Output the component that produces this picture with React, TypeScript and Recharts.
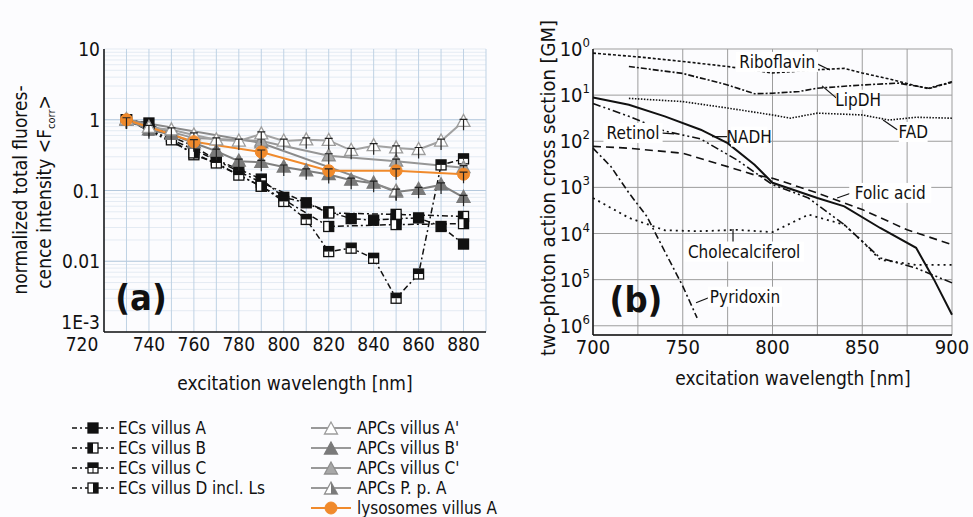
import React from 'react'
import {
  LineChart,
  Line,
  XAxis,
  YAxis,
  CartesianGrid,
  ReferenceLine,
  ReferenceDot
} from 'recharts'

const FONT = "'DejaVu Sans Condensed', 'DejaVu Sans', sans-serif"
const INK = '#111'

// ---- panel (a): normalized fluorescence vs excitation wavelength ----
const wavelengths = [730, 740, 750, 760, 770, 780, 790, 800, 810, 820, 830, 840, 850, 860, 870, 880]

const ecsVillusA = [1, 0.9, 0.58, 0.42, 0.27, 0.2, 0.145, 0.08, 0.067, 0.05, 0.04, 0.038, 0.04, 0.041, 0.031, 0.0175]
const ecsVillusB = [1, null, null, 0.38, null, null, 0.13, null, null, 0.048, null, null, 0.046, null, null, 0.043]
const ecsVillusC = [1, 0.72, 0.52, 0.32, 0.245, 0.165, 0.115, 0.07, 0.039, 0.0137, 0.0153, 0.011, 0.003, 0.0066, 0.23, 0.28]
const ecsVillusD = [1, null, null, 0.34, null, null, 0.115, null, null, 0.031, null, null, 0.033, null, null, 0.034]

const apcsVillusA = [1, 0.78, 0.72, 0.61, 0.52, 0.5, 0.63, 0.5, 0.52, 0.51, 0.37, 0.43, 0.4, 0.38, 0.5, 0.95]
const apcsVillusB = [1, 0.72, 0.62, 0.47, 0.36, 0.26, 0.25, 0.215, 0.19, 0.168, 0.14, 0.127, 0.095, 0.104, 0.12, 0.08]
const apcsVillusC = [1, null, null, 0.55, null, null, 0.5, null, null, 0.31, null, null, 0.26, null, null, 0.21]
const apcsPpA = [1, null, null, null, null, null, 0.47, null, null, null, null, null, 0.098, null, null, null]
const lysosomes = [1, null, null, 0.49, null, null, 0.35, null, null, 0.19, null, null, 0.19, null, null, 0.17]

const xTicksA = [720, 730, 740, 750, 760, 770, 780, 790, 800, 810, 820, 830, 840, 850, 860, 870, 880]
const decadesA = [0.001, 0.01, 0.1, 1, 10]
const decadeLabelsA = ['1E-3', '0.01', '0.1', '1', '10']

// ---- panel (b): two-photon action cross sections (exponent) ----
const riboflavin = [[700, 0.09], [725, 0.17], [750, 0.27], [775, 0.38], [800, 0.52], [825, 0.45], [840, 0.42], [850, 0.52], [865, 0.65], [880, 0.8], [887, 0.86], [900, 0.72]]
const lipDH = [[720, 0.38], [750, 0.53], [775, 0.78], [790, 0.97], [800, 0.96], [815, 0.92], [825, 0.85], [850, 0.78], [870, 0.74], [887, 0.85], [900, 0.71]]
const fad = [[720, 1.07], [750, 1.14], [775, 1.28], [800, 1.43], [810, 1.5], [825, 1.39], [850, 1.43], [865, 1.54], [880, 1.48], [900, 1.5]]
const nadh = [[700, 1.05], [720, 1.21], [740, 1.46], [760, 1.75], [775, 2.04], [790, 2.51], [800, 2.9], [825, 3.23], [840, 3.41], [860, 3.88], [880, 4.31], [890, 5.0], [900, 5.76]]
const retinol = [[700, 1.18], [720, 1.46], [740, 1.78], [760, 1.95], [780, 2.4], [800, 2.94], [820, 3.23], [840, 3.81], [850, 4.17], [860, 4.53], [880, 4.75], [900, 5.07]]
const folicAcid = [[700, 2.11], [720, 2.15], [750, 2.26], [775, 2.55], [790, 2.73], [800, 2.8], [825, 3.12], [850, 3.48], [875, 3.92], [900, 4.24]]
const cholecalciferol = [[700, 3.23], [720, 3.66], [740, 3.93], [760, 3.95], [780, 3.92], [800, 3.97], [820, 3.59], [840, 3.81], [850, 4.17], [860, 4.57], [880, 4.68], [900, 4.68]]
const pyridoxin = [[700, 2.15], [710, 2.55], [720, 3.12], [730, 3.63], [740, 4.39], [750, 5.14], [758, 5.83]]

const xTicksB = [700, 725, 750, 775, 800, 825, 850, 875, 900]
const yTicksB = [0, 1, 2, 3, 4, 5, 6]

// curve labels with their leader lines, in data units of panel (b)
const curveNotes = [
  { text: 'Riboflavin', at: [802.6, 0.28], leader: [[822.6, 0.28], [832, 0.455]] },
  { text: 'LipDH', at: [847.7, 1.1], leader: [[827.6, 0.8], [835.5, 1.06]] },
  { text: 'FAD', at: [878.4, 1.8], leader: [[861.6, 1.54], [869.5, 1.75]] },
  { text: 'Retinol', at: [722.3, 1.82], leader: [[736.8, 1.82], [745.2, 1.84]] },
  { text: 'NADH', at: [787, 1.9], leader: [[766.3, 1.9], [774.7, 1.9]] },
  { text: 'Folic acid', at: [865.6, 3.12], leader: [[836, 3.23], [845.5, 3.1]] },
  { text: 'Cholecalciferol', at: [784.2, 4.39], leader: [[778, 3.9], [778, 4.22]] },
  { text: 'Pyridoxin', at: [784.7, 5.37], leader: [[757.4, 5.5], [765.8, 5.37]] }
]

const rowsA = wavelengths.map((w, i) => ({
  w,
  ecsA: ecsVillusA[i],
  ecsB: ecsVillusB[i],
  ecsC: ecsVillusC[i],
  ecsD: ecsVillusD[i],
  apcA: apcsVillusA[i],
  apcB: apcsVillusB[i],
  apcC: apcsVillusC[i],
  apcP: apcsPpA[i],
  lyso: lysosomes[i]
}))

const toRows = (pairs: number[][]) => pairs.map(([w, e]) => ({ w, e }))

// minor log ticks 2..9 per decade
const minorA: number[] = []
decadesA.slice(0, -1).forEach(d => {
  for (let k = 1; k < 10; k++) minorA.push(+(d * k).toPrecision(3))
})
minorA.push(10)

const decadeLabel = (v: number) => {
  const i = decadesA.findIndex(d => Math.abs(Math.log10(d / v)) < 1e-6)
  return i >= 0 ? decadeLabelsA[i] : ''
}

// ---- markers ----
function SquareMark({ x, y, kind }: { x: number; y: number; kind: string }) {
  const s = 5
  return (
    <g>
      <rect x={x - s} y={y - s} width={2 * s} height={2 * s} fill={kind === 'A' ? INK : '#fff'} stroke={INK} strokeWidth={1.3} />
      {kind === 'B' && <rect x={x - s} y={y - s} width={s} height={2 * s} fill={INK} />}
      {kind === 'C' && (
        <>
          <rect x={x - s} y={y - s} width={2 * s} height={s} fill={INK} />
          <line x1={x} y1={y} x2={x} y2={y + s} stroke={INK} strokeWidth={1} />
        </>
      )}
      {kind === 'D' && <rect x={x} y={y - s} width={s} height={2 * s} fill={INK} />}
    </g>
  )
}

function ErrT({ x, y }: { x: number; y: number }) {
  return <path d={`M${x - 4},${y - 2}H${x + 4}M${x},${y - 2}V${y + 9}`} stroke="#222" strokeWidth={1.2} fill="none" />
}

function TriMark({ x, y, kind, err = true }: { x: number; y: number; kind: string; err?: boolean }) {
  const pts = `${x},${y - 7} ${x - 6.5},${y + 5} ${x + 6.5},${y + 5}`
  const fill = kind === 'A' ? '#fff' : kind === 'B' ? '#7a7a7a' : kind === 'C' ? '#a8a8a8' : '#fff'
  const stroke = kind === 'A' ? '#9c9c9c' : kind === 'B' ? '#7a7a7a' : '#8f8f8f'
  return (
    <g>
      <polygon points={pts} fill={fill} stroke={stroke} strokeWidth={1.3} />
      {kind === 'P' && <polygon points={`${x},${y - 7} ${x},${y + 5} ${x + 6.5},${y + 5}`} fill="#7a7a7a" />}
      {err && <ErrT x={x} y={y} />}
    </g>
  )
}

function OrangeMark({ x, y, err = true }: { x: number; y: number; err?: boolean }) {
  return (
    <g>
      <circle cx={x} cy={y} r={6} fill="#f08a2c" stroke="#f08a2c" />
      {err && <ErrT x={x} y={y} />}
    </g>
  )
}

const dotOk = (p: any) => p.value != null && p.cx != null && p.cy != null && !isNaN(p.cy)

const squareDot = (kind: string) => (p: any) =>
  dotOk(p) ? <SquareMark key={p.index} x={p.cx} y={p.cy} kind={kind} /> : <g key={p.index} />

const triDot = (kind: string) => (p: any) =>
  dotOk(p) ? <TriMark key={p.index} x={p.cx} y={p.cy} kind={kind} /> : <g key={p.index} />

const orangeDot = (p: any) =>
  dotOk(p) ? <OrangeMark key={p.index} x={p.cx} y={p.cy} /> : <g key={p.index} />

// y ticks of (a): the lowest label sits just above the corner, as in the figure
const LogTickA = (p: any) => {
  const label = decadeLabel(p.payload.value)
  if (!label) return <g />
  return (
    <text x={p.x} y={p.y} dy={label === '1E-3' ? -3 : 7} textAnchor="end" fontSize={19} fill={INK} fontFamily={FONT}>
      {label}
    </text>
  )
}

// x ticks of (a): the first label is pushed left of the corner
const WaveTickA = (p: any) => {
  const v = p.payload.value
  if (v % 20 !== 0) return <g />
  return (
    <text x={v === 720 ? p.x - 22 : p.x} y={p.y} dy={14} textAnchor="middle" fontSize={19} fill={INK} fontFamily={FONT}>
      {v}
    </text>
  )
}

const PowerTick = (p: any) => (
  <text x={p.x} y={p.y} dy={7} textAnchor="end" fontSize={20} fill={INK} fontFamily={FONT}>
    10<tspan dy={-9} fontSize={13}>{p.payload.value}</tspan>
  </text>
)

const noteLabel = (text: string) => (props: any) => {
  const vb = props.viewBox
  const cx = vb.x + vb.width / 2
  const cy = vb.y + vb.height / 2
  const w = text.length * 7.6 + 6
  return (
    <g>
      <rect x={cx - w / 2} y={cy - 10} width={w} height={20} fill="#fff" />
      <text x={cx} y={cy} dy={6} textAnchor="middle" fontSize={17} fill={INK} fontFamily={FONT}>{text}</text>
    </g>
  )
}

const tickStyle = { fill: INK, fontSize: 19, fontFamily: FONT }
const ecDash = '6 3 2 3'

const legendLeft = [
  { kind: 'A', label: 'ECs villus A' },
  { kind: 'B', label: 'ECs villus B' },
  { kind: 'C', label: 'ECs villus C' },
  { kind: 'D', label: 'ECs villus D incl. Ls' }
]
const legendRight = [
  { kind: 'A', label: "APCs villus A'" },
  { kind: 'B', label: "APCs villus B'" },
  { kind: 'C', label: "APCs villus C'" },
  { kind: 'P', label: 'APCs P. p. A' },
  { kind: 'L', label: 'lysosomes villus A' }
]

export default function App() {
  return (
    <div style={{ position: 'absolute', left: 0, top: 0, width: 973, height: 517, background: '#fcfcfe', overflow: 'hidden' }}>
      {/* panel (a) */}
      <div style={{ position: 'absolute', left: 0, top: 0 }}>
        <LineChart width={500} height={400} data={rowsA} margin={{ top: 49, right: 14, bottom: 38, left: 0 }}>
          <CartesianGrid vertical={false} stroke="#e4ebf3" />
          <CartesianGrid horizontal={false} stroke="#bfd2e4" />
          {decadesA.slice(1, -1).map(d => (
            <ReferenceLine key={d} y={d} stroke="#b5c9dd" />
          ))}
          <XAxis
            type="number"
            dataKey="w"
            domain={[720, 890]}
            ticks={xTicksA}
            interval={0}
            height={30}
            tickSize={0}
            tickMargin={5}
            axisLine={{ stroke: INK, strokeWidth: 1.5 }}
            tick={WaveTickA}
          />
          <XAxis xAxisId="top" orientation="top" type="number" dataKey="w" domain={[720, 890]} ticks={xTicksA} interval={0}
            mirror height={0} tickSize={5} tickFormatter={() => ''} axisLine={{ stroke: INK, strokeWidth: 1.5 }} tickLine={{ stroke: INK }} />
          <YAxis
            scale="log"
            domain={[0.001, 10]}
            ticks={minorA}
            interval={0}
            allowDataOverflow
            width={104}
            tickSize={0}
            tickMargin={4}
            axisLine={{ stroke: INK, strokeWidth: 1.5 }}
            tick={LogTickA}
          />
          <YAxis yAxisId="right" orientation="right" scale="log" domain={[0.001, 10]} ticks={minorA} interval={0}
            mirror width={0} tickSize={4} tickFormatter={() => ''} axisLine={{ stroke: INK, strokeWidth: 1.5 }} tickLine={{ stroke: INK }} />

          <Line dataKey="ecsA" stroke={INK} strokeWidth={1.5} strokeDasharray={ecDash} dot={squareDot('A')} activeDot={false} connectNulls isAnimationActive={false} />
          <Line dataKey="ecsB" stroke={INK} strokeWidth={1.5} strokeDasharray={ecDash} dot={squareDot('B')} activeDot={false} connectNulls isAnimationActive={false} />
          <Line dataKey="ecsC" stroke={INK} strokeWidth={1.5} strokeDasharray={ecDash} dot={squareDot('C')} activeDot={false} connectNulls isAnimationActive={false} />
          <Line dataKey="ecsD" stroke={INK} strokeWidth={1.5} strokeDasharray={ecDash} dot={squareDot('D')} activeDot={false} connectNulls isAnimationActive={false} />

          <Line dataKey="apcB" stroke="#7f7f7f" strokeWidth={2} dot={triDot('B')} activeDot={false} connectNulls isAnimationActive={false} />
          <Line dataKey="apcP" stroke="#8a8a8a" strokeWidth={2} dot={triDot('P')} activeDot={false} connectNulls isAnimationActive={false} />
          <Line dataKey="apcC" stroke="#969696" strokeWidth={2} dot={triDot('C')} activeDot={false} connectNulls isAnimationActive={false} />
          <Line dataKey="apcA" stroke="#a2a2a2" strokeWidth={2} dot={triDot('A')} activeDot={false} connectNulls isAnimationActive={false} />
          <Line dataKey="lyso" stroke="#f08a2c" strokeWidth={2} dot={orangeDot} activeDot={false} connectNulls isAnimationActive={false} />
        </LineChart>
      </div>

      {/* panel (b) */}
      <div style={{ position: 'absolute', left: 490, top: 0 }}>
        <LineChart width={480} height={400} margin={{ top: 49, right: 18, bottom: 35, left: 0 }}>
          <CartesianGrid stroke="#9d9d9d" />
          <XAxis
            type="number"
            dataKey="w"
            domain={[700, 900]}
            ticks={xTicksB}
            interval={0}
            allowDuplicatedCategory={false}
            tickFormatter={(v: number) => (v % 50 === 0 ? String(v) : '')}
            height={30}
            tickSize={0}
            tickMargin={5}
            axisLine={{ stroke: INK, strokeWidth: 1.5 }}
            tick={{ ...tickStyle, fontSize: 20 }}
          />
          <XAxis xAxisId="top" orientation="top" type="number" dataKey="w" domain={[700, 900]} ticks={xTicksB} interval={0}
            mirror height={0} tickSize={5} tickFormatter={() => ''} axisLine={{ stroke: INK, strokeWidth: 1.5 }} tickLine={{ stroke: INK }} />
          <YAxis
            type="number"
            domain={[0, 6.2]}
            reversed
            ticks={yTicksB}
            interval={0}
            width={103}
            tickSize={0}
            tickMargin={3}
            axisLine={{ stroke: INK, strokeWidth: 1.5 }}
            tick={PowerTick}
          />
          <YAxis yAxisId="right" orientation="right" type="number" domain={[0, 6.2]} reversed ticks={yTicksB}
            mirror width={0} tickSize={0} tickFormatter={() => ''} axisLine={{ stroke: INK, strokeWidth: 1.5 }} />

          <Line data={toRows(riboflavin)} dataKey="e" stroke={INK} strokeWidth={1.6} strokeDasharray="3 2" dot={false} activeDot={false} isAnimationActive={false} />
          <Line data={toRows(lipDH)} dataKey="e" stroke={INK} strokeWidth={1.6} strokeDasharray="6 2 2 2" dot={false} activeDot={false} isAnimationActive={false} />
          <Line data={toRows(fad)} dataKey="e" stroke={INK} strokeWidth={1.6} strokeDasharray="1.5 1.5" dot={false} activeDot={false} isAnimationActive={false} />
          <Line data={toRows(nadh)} dataKey="e" stroke={INK} strokeWidth={2} dot={false} activeDot={false} isAnimationActive={false} />
          <Line data={toRows(retinol)} dataKey="e" stroke={INK} strokeWidth={1.6} strokeDasharray="8 3 2 3 2 3" dot={false} activeDot={false} isAnimationActive={false} />
          <Line data={toRows(folicAcid)} dataKey="e" stroke={INK} strokeWidth={1.6} strokeDasharray="8 5" dot={false} activeDot={false} isAnimationActive={false} />
          <Line data={toRows(cholecalciferol)} dataKey="e" stroke={INK} strokeWidth={1.8} strokeDasharray="2 4" dot={false} activeDot={false} isAnimationActive={false} />
          <Line data={toRows(pyridoxin)} dataKey="e" stroke={INK} strokeWidth={1.6} strokeDasharray="7 3 2 3" dot={false} activeDot={false} isAnimationActive={false} />

          {curveNotes.map(n => (
            <ReferenceLine
              key={'l' + n.text}
              segment={[{ x: n.leader[0][0], y: n.leader[0][1] }, { x: n.leader[1][0], y: n.leader[1][1] }]}
              stroke={INK}
              strokeWidth={1.2}
              ifOverflow="visible"
            />
          ))}
          {curveNotes.map(n => (
            <ReferenceDot key={'t' + n.text} x={n.at[0]} y={n.at[1]} r={0} ifOverflow="visible" label={noteLabel(n.text)} />
          ))}
        </LineChart>
      </div>

      {/* titles, panel letters and legend */}
      <svg width={973} height={517} style={{ position: 'absolute', left: 0, top: 0, pointerEvents: 'none' }} fontFamily={FONT}>
        <text transform="translate(27,190) rotate(-90)" textAnchor="middle" fontSize={19} fill={INK}>normalized total fluores-</text>
        <text transform="translate(51,192) rotate(-90)" textAnchor="middle" fontSize={19} fill={INK}>
          cence intensity &lt;F<tspan dy={4} fontSize={11}>corr</tspan><tspan dy={-4}>&gt;</tspan>
        </text>
        <text x={295} y={390} textAnchor="middle" fontSize={19} fill={INK}>excitation wavelength [nm]</text>
        <text transform="translate(555,188) rotate(-90)" textAnchor="middle" fontSize={20} fill={INK}>two-photon action cross section [GM]</text>
        <text x={793} y={385} textAnchor="middle" fontSize={19} fill={INK}>excitation wavelength [nm]</text>

        <text x={141} y={310} textAnchor="middle" fontSize={36} fontWeight="bold" fill={INK}>(a)</text>
        <text x={636} y={312} textAnchor="middle" fontSize={36} fontWeight="bold" fill={INK}>(b)</text>

        {legendLeft.map((item, i) => {
          const y = 428 + i * 20
          return (
            <g key={item.label}>
              <line x1={72} y1={y} x2={114} y2={y} stroke={INK} strokeWidth={1.5} strokeDasharray="5 3 2 3" />
              <SquareMark x={93} y={y} kind={item.kind} />
              <text x={118} y={y + 6} fontSize={17} fill={INK}>{item.label}</text>
            </g>
          )
        })}
        {legendRight.map((item, i) => {
          const y = 428 + i * 20
          const color = item.kind === 'L' ? '#f08a2c' : '#999'
          return (
            <g key={item.label}>
              <line x1={311} y1={y} x2={351} y2={y} stroke={color} strokeWidth={2} />
              {item.kind === 'L'
                ? <OrangeMark x={331} y={y} err={false} />
                : <TriMark x={331} y={y + 1} kind={item.kind} err={false} />}
              <text x={357} y={y + 6} fontSize={17} fill={INK}>{item.label}</text>
            </g>
          )
        })}
      </svg>
    </div>
  )
}
